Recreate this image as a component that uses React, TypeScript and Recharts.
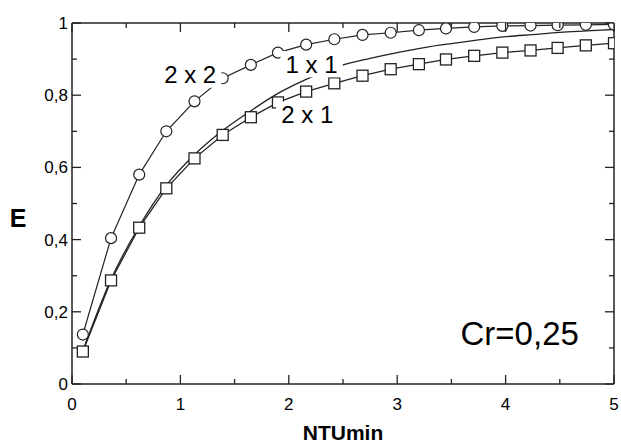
import { LineChart, Line, XAxis, YAxis, ReferenceLine } from "recharts";

// NTUmin positions of the markers
const ntu = [0.1, 0.36, 0.62, 0.87, 1.13, 1.39, 1.65, 1.9, 2.16, 2.42, 2.68, 2.94, 3.2, 3.45, 3.71, 3.97, 4.23, 4.48, 4.74, 5.0];
const e2x2 = [0.137, 0.404, 0.58, 0.7, 0.783, 0.847, 0.884, 0.918, 0.94, 0.955, 0.967, 0.973, 0.98, 0.985, 0.989, 0.992, 0.993, 0.994, 0.995, 0.996];
const e2x1 = [0.09, 0.287, 0.433, 0.542, 0.625, 0.69, 0.739, 0.78, 0.81, 0.833, 0.854, 0.872, 0.886, 0.899, 0.909, 0.918, 0.924, 0.931, 0.938, 0.944];

// 1 x 1 curve (no markers)
const ntu1x1 = [0.1, 0.36, 0.62, 0.87, 1.13, 1.39, 1.65, 1.9, 2.16, 2.3, 2.5, 2.75, 3.0, 3.25, 3.5, 3.75, 4.0, 4.25, 4.5, 4.75, 5.0];
const e1x1 = [0.092, 0.29, 0.437, 0.55, 0.635, 0.702, 0.757, 0.805, 0.844, 0.862, 0.884, 0.902, 0.918, 0.932, 0.943, 0.953, 0.962, 0.968, 0.974, 0.978, 0.982];

const xTicks = [0, 0.5, 1, 1.5, 2, 2.5, 3, 3.5, 4, 4.5, 5];
const yTicks = [0, 0.1, 0.2, 0.3, 0.4, 0.5, 0.6, 0.7, 0.8, 0.9, 1];

const labelText = ["2 x 2", "1 x 1", "2 x 1", "Cr=0,25"];
const labelX = [1.09, 2.21, 2.17, 4.13];
const labelY = [0.857, 0.886, 0.746, 0.14];
const labelSize = [24, 24, 24, 33];

const data2x2 = ntu.map((x, i) => ({ x, e: e2x2[i] }));
const data2x1 = ntu.map((x, i) => ({ x, e: e2x1[i] }));
const data1x1 = ntu1x1.map((x, i) => ({ x, e: e1x1[i] }));
const labelData = labelText.map((t, i) => ({ x: labelX[i], e: labelY[i], text: t, size: labelSize[i] }));

const W = 621;
const H = 448;
const TOP = 23;
const RIGHT = 614;
const LEFT = 72;
const BOTTOM = 384;
const FONT = "'Liberation Sans', Arial, sans-serif";
const INK = "#222";

const XTick = ({ x, y, payload }: any) => {
  const v = payload.value;
  const major = Number.isInteger(v);
  const len = major ? 9 : 5;
  return (
    <g>
      <line x1={x} x2={x} y1={BOTTOM} y2={BOTTOM - len} stroke={INK} strokeWidth={1.3} />
      <line x1={x} x2={x} y1={TOP} y2={TOP + len} stroke={INK} strokeWidth={1.3} />
      {major && (
        <text x={x} y={BOTTOM + 26} textAnchor="middle" fontSize={17} fontFamily={FONT} fill="#000">
          {v}
        </text>
      )}
    </g>
  );
};

const YTick = ({ x, y, payload }: any) => {
  const v = payload.value;
  const major = Math.round(v * 10) % 2 === 0;
  const len = major ? 9 : 5;
  const txt = v === 0 ? "0" : v === 1 ? "1" : v.toFixed(1).replace(".", ",");
  return (
    <g>
      <line x1={LEFT} x2={LEFT + len} y1={y} y2={y} stroke={INK} strokeWidth={1.3} />
      <line x1={RIGHT} x2={RIGHT - len} y1={y} y2={y} stroke={INK} strokeWidth={1.3} />
      {major && (
        <text x={LEFT - 4} y={y + 6} textAnchor="end" fontSize={17} fontFamily={FONT} fill="#000">
          {txt}
        </text>
      )}
    </g>
  );
};

const PlotClip = ({ id }: { id: string }) => (
  <defs>
    <clipPath id={id}>
      <rect x={LEFT} y={TOP} width={RIGHT - LEFT} height={BOTTOM - TOP} />
    </clipPath>
  </defs>
);

const Square = ({ cx, cy, index }: any) => (
  <g>
    <PlotClip id={`sq-clip-${index}`} />
    <rect
      x={cx - 5.5}
      y={cy - 5.5}
      width={11}
      height={11}
      fill="#fff"
      stroke={INK}
      strokeWidth={1.3}
      clipPath={`url(#sq-clip-${index})`}
    />
  </g>
);

const Circle = ({ cx, cy, index }: any) => (
  <g>
    <PlotClip id={`ci-clip-${index}`} />
    <circle cx={cx} cy={cy} r={5.5} fill="#fff" stroke={INK} strokeWidth={1.2} clipPath={`url(#ci-clip-${index})`} />
  </g>
);

const LabelDot = ({ cx, cy, payload }: any) => {
  const { text, size } = payload;
  const w = text.length * size * 0.52;
  return (
    <g>
      <rect x={cx - w / 2} y={cy - size * 0.55} width={w} height={size * 1.1} fill="#fff" />
      <text x={cx} y={cy + size * 0.36} textAnchor="middle" fontSize={size} fontFamily={FONT} fill="#000">
        {text}
      </text>
    </g>
  );
};

export default function App() {
  return (
    <div style={{ position: "absolute", left: 0, top: 0, width: W, height: H, background: "#fff" }}>
      <LineChart width={W} height={H} margin={{ top: TOP, right: W - RIGHT, left: 0, bottom: 0 }}>
        <XAxis
          type="number"
          dataKey="x"
          domain={[0, 5]}
          ticks={xTicks}
          interval={0}
          allowDataOverflow
          height={H - BOTTOM}
          tickSize={0}
          tickMargin={0}
          tickLine={false}
          tick={<XTick />}
          axisLine={{ stroke: INK, strokeWidth: 1.5 }}
          label={() => (
            <text
              x={LEFT + (RIGHT - LEFT) / 2}
              y={BOTTOM + 56}
              textAnchor="middle"
              fontSize={21}
              fontWeight="bold"
              fontFamily={FONT}
              fill="#000"
            >
              NTUmin
            </text>
          )}
        />
        <YAxis
          type="number"
          dataKey="e"
          domain={[0, 1]}
          ticks={yTicks}
          interval={0}
          allowDataOverflow
          width={LEFT}
          tickSize={0}
          tickMargin={0}
          tickLine={false}
          tick={<YTick />}
          axisLine={{ stroke: INK, strokeWidth: 1.5 }}
          label={() => (
            <text x={18} y={227} textAnchor="middle" fontSize={25} fontWeight="bold" fontFamily={FONT} fill="#000">
              E
            </text>
          )}
        />
        <ReferenceLine y={1} stroke={INK} strokeWidth={1.5} />
        <ReferenceLine x={5} stroke={INK} strokeWidth={1.5} />
        <Line
          data={data1x1}
          dataKey="e"
          type="monotone"
          stroke={INK}
          strokeWidth={1.3}
          dot={false}
          activeDot={false}
          isAnimationActive={false}
        />
        <Line
          data={data2x1}
          dataKey="e"
          type="linear"
          stroke={INK}
          strokeWidth={1.3}
          dot={<Square />}
          activeDot={false}
          isAnimationActive={false}
        />
        <Line
          data={data2x2}
          dataKey="e"
          type="linear"
          stroke={INK}
          strokeWidth={1.2}
          dot={<Circle />}
          activeDot={false}
          isAnimationActive={false}
        />
        <Line
          data={labelData}
          dataKey="e"
          stroke="none"
          dot={<LabelDot />}
          activeDot={false}
          isAnimationActive={false}
        />
      </LineChart>
    </div>
  );
}
